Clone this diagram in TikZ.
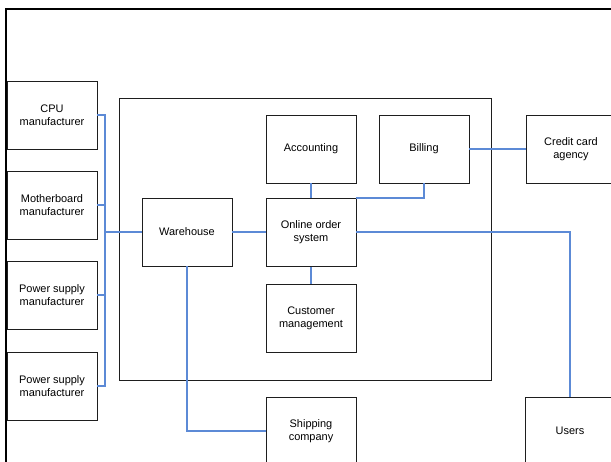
\documentclass[tikz,border=0pt]{standalone}
\usepackage{fontspec}
\setmainfont{Liberation Sans}
\definecolor{connblue}{RGB}{92,138,214}
\definecolor{boxline}{RGB}{30,30,30}
\begin{document}
\begin{tikzpicture}[x=1bp,y=-1bp,
  box/.style={draw=boxline,line width=0.9bp,fill=white,rectangle,minimum width=90bp,minimum height=68bp,inner sep=0pt,align=center,font=\fontsize{11}{13}\selectfont},
  conn/.style={draw=connblue,line width=1.1bp}]
\useasboundingbox (0,0) rectangle (611,462);
\clip (0,0) rectangle (611,462);
\fill[white] (0,0) rectangle (611,462);
% outer frame
\draw[line width=2.5bp,black] (6,470) -- (6,9) -- (620,9);
% container
\node[draw=boxline,line width=0.9bp,rectangle,minimum width=372bp,minimum height=282bp,inner sep=0pt] (sys) at (305,239) {};
% boxes
\node[box] (cpu) at (52,115) {CPU\\manufacturer};
\node[box] (mb) at (52,205) {Motherboard\\manufacturer};
\node[box] (ps1) at (52,295) {Power supply\\manufacturer};
\node[box] (ps2) at (52,386) {Power supply\\manufacturer};
\node[box] (wh) at (187,232) {Warehouse};
\node[box] (acc) at (311,149) {Accounting};
\node[box] (bill) at (424,149) {Billing};
\node[box] (oos) at (311,232.5) {Online order\\system};
\node[box] (cm) at (311,318) {Customer\\management};
\node[box] (ship) at (311,431) {Shipping\\company};
\node[box] (cc) at (571,149) {Credit card\\agency};
\node[box] (users) at (570,431) {Users};
% bus coordinates
\coordinate (bt) at (105,115);
\coordinate (bb) at (105,386);
% connectors
\draw[conn] (cpu.east) -- (bt) -- (bb) -- (ps2.east);
\draw[conn] (mb.east) -- (mb.east -| bt);
\draw[conn] (ps1.east) -- (ps1.east -| bt);
\draw[conn] (wh.west) -- (wh.west -| bt);
\draw[conn] (wh.east) -- (oos.west |- wh.east);
\draw[conn] (acc.south) -- (oos.north);
\draw[conn] (bill.south) |- (oos.north east);
\draw[conn] (bill.east) -- (cc.west);
\draw[conn] (oos.south) -- (cm.north);
\draw[conn] (oos.east |- wh.east) -| (users.north);
\draw[conn] (wh.south) |- (ship.west);
\end{tikzpicture}
\end{document}
